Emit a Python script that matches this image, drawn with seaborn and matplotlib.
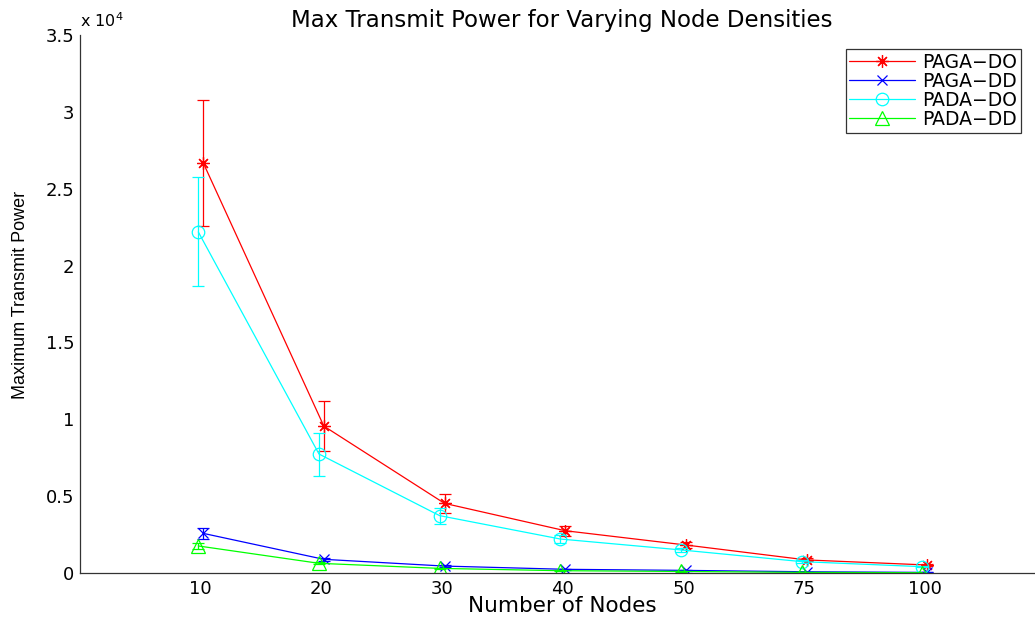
import numpy as np
import pandas as pd
import matplotlib
matplotlib.use("Agg")
import matplotlib.pyplot as plt
import seaborn as sns

# ---- data ----
nodes = ["10", "20", "30", "40", "50", "75", "100"]
series_names = ["PAGA\u2212DO", "PAGA\u2212DD", "PADA\u2212DO", "PADA\u2212DD"]
paga_do = [26700, 9560, 4530, 2750, 1820, 850, 520]
paga_do_err = [4100, 1620, 600, 320, 200, 100, 60]
paga_dd = [2580, 890, 450, 240, 170, 80, 40]
paga_dd_err = [370, 100, 50, 30, 20, 10, 5]
pada_do = [22190, 7740, 3730, 2210, 1500, 740, 410]
pada_do_err = [3550, 1400, 530, 250, 150, 80, 50]
pada_dd = [1760, 630, 300, 150, 100, 40, 20]
pada_dd_err = [200, 70, 40, 20, 10, 5, 3]
colors = ["#ff0000", "#0000ff", "#00ffff", "#00ff00"]
markers = [(8, 2, 0), "x", "o", "^"]
marker_sizes = [9, 7, 9, 10]
offsets = [0.02, 0.02, -0.02, -0.02]

values = [paga_do, paga_dd, pada_do, pada_dd]
errors = [paga_do_err, paga_dd_err, pada_do_err, pada_dd_err]

sns.set_theme(style="white")
plt.rcParams['font.family'] = ['DejaVu Sans']
plt.rcParams['text.color'] = 'black'
plt.rcParams['axes.labelcolor'] = 'black'
plt.rcParams['xtick.color'] = 'black'
plt.rcParams['ytick.color'] = 'black'

W, H = 1035, 620
fig = plt.figure(figsize=(W / 100, H / 100), dpi=100)
ax = fig.add_axes([80 / W, 47 / H, 1 - 80 / W, (573 - 35) / H])

pos = np.arange(1, len(nodes) + 1)
for name, v, e, c, m, ms, dx in zip(series_names, values, errors, colors, markers, marker_sizes, offsets):
    df = pd.DataFrame({"x": pos + dx, "y": v})
    sns.lineplot(data=df, x="x", y="y", ax=ax, color=c, marker=m, markersize=ms,
                 markerfacecolor="none", markeredgecolor=c, markeredgewidth=0.9,
                 linewidth=0.9, label=name, legend=False)
    ax.errorbar(pos + dx, v, yerr=e, fmt="none", ecolor=c, elinewidth=0.9,
                capsize=4, capthick=0.9)

ax.set_xlim(0, (W - 80) / 120.7)
ax.set_ylim(0, 35000)
ax.set_xticks(pos)
ax.set_xticklabels(nodes)
ax.set_yticks(np.arange(0, 35001, 5000))
ax.set_yticklabels(["0", "0.5", "1", "1.5", "2", "2.5", "3", "3.5"])
ax.tick_params(axis="both", direction="in", length=6, width=0.8, color="#222222",
               labelsize=13, labelcolor="black")
ax.tick_params(axis="x", pad=5)
ax.tick_params(axis="y", pad=4)

for s in ["top", "right"]:
    ax.spines[s].set_visible(False)
for s in ["left", "bottom"]:
    ax.spines[s].set_color("#333333")
    ax.spines[s].set_linewidth(0.9)

ax.set_xlabel("Number of Nodes", fontsize=15.5)
ax.xaxis.set_label_coords((562 - 80) / (W - 80), (573 - 596) / 538)
ax.set_ylabel("Maximum Transmit Power", fontsize=13,
              family=['Liberation Sans', 'DejaVu Sans'])
ax.yaxis.set_label_coords((29 - 80) / (W - 80), (573 - 295) / 538)
ax.set_title("Max Transmit Power for Varying Node Densities", fontsize=16.5,
             x=(562 - 80) / (W - 80), pad=6)
ax.text(0.0, 1.0 + 5 / 538, "x 10$^{4}$", transform=ax.transAxes, fontsize=11.5,
        ha="left", va="bottom")

leg = ax.legend(loc="upper right", fontsize=13.5, frameon=True, fancybox=False,
                handlelength=3.5, borderpad=0.2, labelspacing=0.0,
                handletextpad=0.4, borderaxespad=0)
leg.get_frame().set_edgecolor("black")
leg.get_frame().set_linewidth(0.9)
leg.set_bbox_to_anchor((1021 / W, 1 - 49 / H), transform=fig.transFigure)

ax.grid(False)
fig.savefig("out.png", dpi=100)
